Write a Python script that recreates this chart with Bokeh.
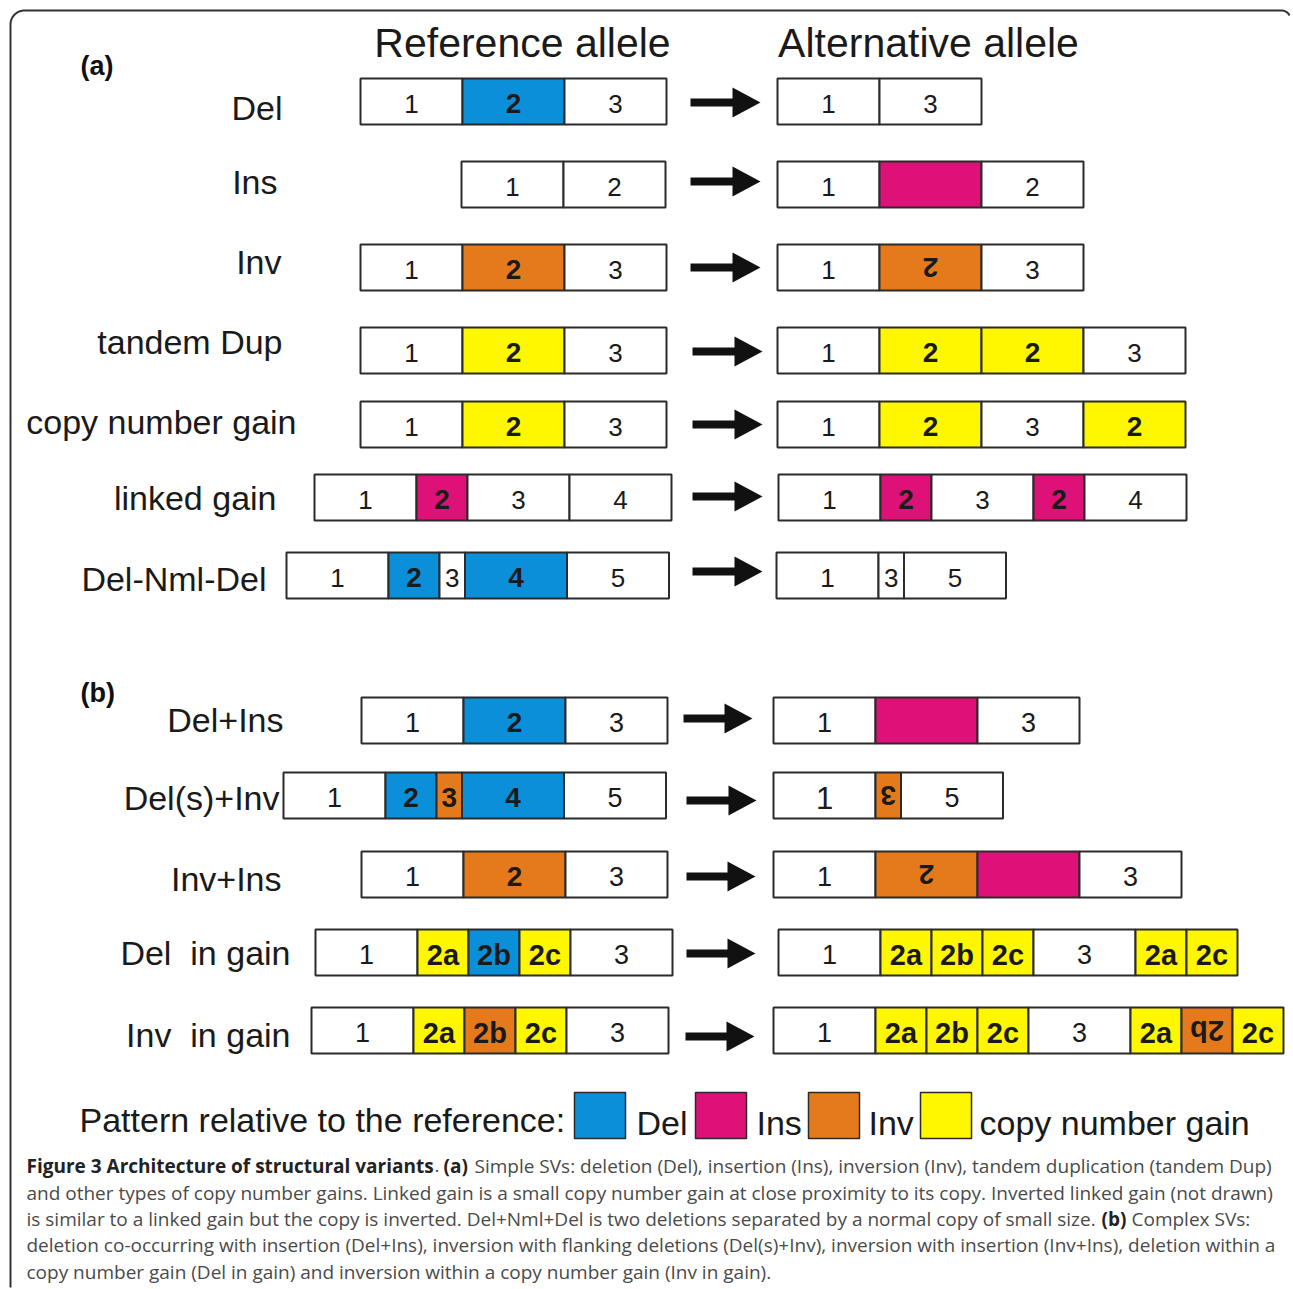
import numpy as np
from bokeh.plotting import figure
from bokeh.models import Range1d, ColumnDataSource
from bokeh.embed import file_html
from bokeh.resources import INLINE
from bokeh.core.properties import value

# ---------------- data ----------------
section_labels = ["(a)", "(b)"]
column_titles = ["Reference allele", "Alternative allele"]
row_labels = ["Del", "Ins", "Inv", "tandem Dup", "copy number gain", "linked gain",
              "Del-Nml-Del", "Del+Ins", "Del(s)+Inv", "Inv+Ins", "Del\u00a0 in gain", "Inv\u00a0 in gain"]

# segments: (label, kind, relative length)
del_ref = [("1", "n", 1), ("2", "del", 1), ("3", "n", 1)]
del_alt = [("1", "n", 1), ("3", "n", 1)]
ins_ref = [("1", "n", 1), ("2", "n", 1)]
ins_alt = [("1", "n", 1), ("", "ins", 1), ("2", "n", 1)]
inv_ref = [("1", "n", 1), ("2", "inv", 1), ("3", "n", 1)]
inv_alt = [("1", "n", 1), ("2", "invflip", 1), ("3", "n", 1)]
tdup_ref = [("1", "n", 1), ("2", "gain", 1), ("3", "n", 1)]
tdup_alt = [("1", "n", 1), ("2", "gain", 1), ("2", "gain", 1), ("3", "n", 1)]
cng_ref = [("1", "n", 1), ("2", "gain", 1), ("3", "n", 1)]
cng_alt = [("1", "n", 1), ("2", "gain", 1), ("3", "n", 1), ("2", "gain", 1)]
lgain_ref = [("1", "n", 1), ("2", "ins", 0.5), ("3", "n", 1), ("4", "n", 1)]
lgain_alt = [("1", "n", 1), ("2", "ins", 0.5), ("3", "n", 1), ("2", "ins", 0.5), ("4", "n", 1)]
dnd_ref = [("1", "n", 1), ("2", "del", 0.5), ("3", "n", 0.25), ("4", "del", 1), ("5", "n", 1)]
dnd_alt = [("1", "n", 1), ("3", "n", 0.25), ("5", "n", 1)]
delins_ref = [("1", "n", 1), ("2", "del", 1), ("3", "n", 1)]
delins_alt = [("1", "n", 1), ("", "ins", 1), ("3", "n", 1)]
delsinv_ref = [("1", "n", 1), ("2", "del", 0.5), ("3", "inv", 0.25), ("4", "del", 1), ("5", "n", 1)]
delsinv_alt = [("1", "n", 1), ("3", "invflip", 0.25), ("5", "n", 1)]
invins_ref = [("1", "n", 1), ("2", "inv", 1), ("3", "n", 1)]
invins_alt = [("1", "n", 1), ("2", "invflip", 1), ("", "ins", 1), ("3", "n", 1)]
delgain_ref = [("1", "n", 1), ("2a", "gain", 0.5), ("2b", "del", 0.5), ("2c", "gain", 0.5), ("3", "n", 1)]
delgain_alt = [("1", "n", 1), ("2a", "gain", 0.5), ("2b", "gain", 0.5), ("2c", "gain", 0.5),
               ("3", "n", 1), ("2a", "gain", 0.5), ("2c", "gain", 0.5)]
invgain_ref = [("1", "n", 1), ("2a", "gain", 0.5), ("2b", "inv", 0.5), ("2c", "gain", 0.5), ("3", "n", 1)]
invgain_alt = [("1", "n", 1), ("2a", "gain", 0.5), ("2b", "gain", 0.5), ("2c", "gain", 0.5),
               ("3", "n", 1), ("2a", "gain", 0.5), ("2b", "invflip", 0.5), ("2c", "gain", 0.5)]

ref_rows = [del_ref, ins_ref, inv_ref, tdup_ref, cng_ref, lgain_ref, dnd_ref,
            delins_ref, delsinv_ref, invins_ref, delgain_ref, invgain_ref]
alt_rows = [del_alt, ins_alt, inv_alt, tdup_alt, cng_alt, lgain_alt, dnd_alt,
            delins_alt, delsinv_alt, invins_alt, delgain_alt, invgain_alt]

legend_title = "Pattern relative to the reference:"
legend_kinds = ["del", "ins", "inv", "gain"]
legend_names = ["Del", "Ins", "Inv", "copy number gain"]

caption_lines = [
    [("Figure 3 Architecture of structural variants", "bold"), (".", "normal"), ("(a)", "bold"),
     ("Simple SVs: deletion (Del), insertion (Ins), inversion (Inv), tandem duplication (tandem Dup)", "normal")],
    [("and other types of copy number gains. Linked gain is a small copy number gain at close proximity to its copy. Inverted linked gain (not drawn)", "normal")],
    [("is similar to a linked gain but the copy is inverted. Del+Nml+Del is two deletions separated by a normal copy of small size.", "normal"),
     ("(b)", "bold"), ("Complex SVs:", "normal")],
    [("deletion co-occurring with insertion (Del+Ins), inversion with flanking deletions (Del(s)+Inv), inversion with insertion (Inv+Ins), deletion within a", "normal")],
    [("copy number gain (Del in gain) and inversion within a copy number gain (Inv in gain).", "normal")],
]

# ---------------- layout / style ----------------
COLORS = {"n": "white", "del": "#0b8fd8", "ins": "#de1179", "inv": "#e47a1c",
          "invflip": "#e47a1c", "gain": "#fff700"}
UNIT = 102
BOX_H = 46
row_y = [101, 184, 267, 350, 424, 497, 575, 720, 795, 874, 952, 1030]
label_y = [107, 181, 261, 341, 421, 497, 578, 719, 797, 878, 952, 1034]
label_x = [282, 277, 281, 282, 296, 276, 266, 283, 279, 281, 290, 290]
ref_x0 = [360, 461, 360, 360, 360, 314, 286, 361, 283, 361, 315, 311]
alt_x0 = [777, 777, 777, 777, 777, 778, 776, 773, 773, 773, 778, 773]
arrow_x0 = [690, 690, 690, 692, 692, 692, 692, 683, 686, 686, 686, 685]
arrow_x1 = [760, 760, 760, 762, 762, 762, 762, 752, 756, 755, 755, 754]
arrow_y = [102, 181, 267, 351, 424, 496, 571, 718, 800, 876, 953, 1036]

FIG_FONT = "Liberation Sans"
CAP_FONT = "Open Sans"

W, H = 1292, 1288
p = figure(width=W, height=H, x_range=Range1d(0, W), y_range=Range1d(H, 0),
           output_backend="svg", toolbar_location=None, min_border=0,
           x_axis_location=None, y_axis_location=None)
p.grid.visible = False
p.outline_line_color = None
p.background_fill_color = "white"
p.border_fill_color = "white"

# frame
r = 14
t = np.linspace(np.pi, 1.5 * np.pi, 20)
t2 = np.linspace(1.5 * np.pi, 1.85 * np.pi, 10)
fx = np.concatenate([[10, 10], 10 + r + r * np.cos(t), 1281 + 9 * np.cos(t2)])
fy = np.concatenate([[1287, 10 + r], 10 + r + r * np.sin(t), 19 + 9 * np.sin(t2)])
p.line(fx, fy, line_color="#333333", line_width=2)

# boxes
L, R, T, B, C = [], [], [], [], []
txt = {"x": [], "y": [], "text": [], "style": [], "size": [], "angle": []}
for i in range(len(ref_rows)):
    for segs, x0 in ((ref_rows[i], ref_x0[i]), (alt_rows[i], alt_x0[i])):
        x = x0
        for lab, kind, ln in segs:
            w = ln * UNIT
            L.append(x); R.append(x + w)
            T.append(row_y[i] - BOX_H / 2); B.append(row_y[i] + BOX_H / 2)
            C.append(COLORS[kind])
            if lab:
                txt["x"].append(x + w / 2)
                bold = kind != "n"
                flip = kind == "invflip"
                txt["y"].append(row_y[i] + (0 if flip else 2))
                txt["text"].append(lab)
                txt["style"].append("bold" if bold else "normal")
                big = i >= 7
                if len(lab) > 1:
                    sz = "29px"
                elif bold:
                    sz = "28px"
                else:
                    sz = "27px" if big else "26px"
                if i == 8 and lab == "1" and x == x0 and segs is alt_rows[i]:
                    sz = "31px"
                txt["size"].append(sz)
                txt["angle"].append(np.pi if flip else 0.0)
            x += w

p.quad(left=L, right=R, top=T, bottom=B, fill_color=C, line_color="#2b2b2b", line_width=2)
p.text(x="x", y="y", text="text", angle="angle", source=ColumnDataSource(txt),
       text_font=value(FIG_FONT), text_font_style="style", text_font_size="size",
       text_align="center", text_baseline="middle", text_color="#1a1a1a")

# arrows
ax0 = np.array(arrow_x0, float); ax1 = np.array(arrow_x1, float); ay = np.array(arrow_y, float)
head = 28
p.quad(left=ax0, right=ax1 - head + 2, top=ay - 4, bottom=ay + 4, fill_color="#111111", line_color=None)
p.patches(xs=[[a - head, a, a - head] for a in ax1], ys=[[y - 15, y, y + 15] for y in ay],
          fill_color="#111111", line_color=None)

# row labels
p.text(x=label_x, y=label_y, text=row_labels, text_font=value(FIG_FONT), text_font_size="34px",
       text_align="right", text_baseline="middle", text_color="#1a1a1a")

# titles / section labels
p.text(x=[522, 928], y=[42, 42], text=column_titles, text_font=value(FIG_FONT), text_font_size="41px",
       text_align="center", text_baseline="middle", text_color="#1a1a1a")
p.text(x=[80, 80], y=[65, 692], text=section_labels, text_font=value(FIG_FONT), text_font_size="27px",
       text_font_style="bold", text_align="left", text_baseline="middle", text_color="#111111")

# legend
p.text(x=[79], y=[1119], text=[legend_title], text_font=value(FIG_FONT), text_font_size="34px",
       text_align="left", text_baseline="middle", text_color="#1a1a1a")
sq_x = [574, 695, 808, 920]
nm_x = [636, 756, 868, 979]
p.quad(left=sq_x, right=[s + 51 for s in sq_x], top=[1092] * 4, bottom=[1138] * 4,
       fill_color=[COLORS[k] for k in legend_kinds], line_color="#2b2b2b", line_width=1.5)
p.text(x=nm_x, y=[1122] * 4, text=legend_names, text_font=value(FIG_FONT), text_font_size="34px",
       text_align="left", text_baseline="middle", text_color="#1a1a1a")

# caption
cap_y = [1165, 1192, 1218, 1244, 1271]
cap_x = [[26, 434, 443, 474], [26], [26, 1101, 1131], [26], [26]]
for ly, xs, segs in zip(cap_y, cap_x, caption_lines):
    for sx, (s, st) in zip(xs, segs):
        p.text(x=[sx], y=[ly], text=[s], text_font=value(CAP_FONT), text_font_size="19px",
               text_font_style=st, text_align="left", text_baseline="middle",
               text_color="#222222" if st == "bold" else "#4a4a4a")

open("out.html", "w").write(file_html(p, INLINE))
